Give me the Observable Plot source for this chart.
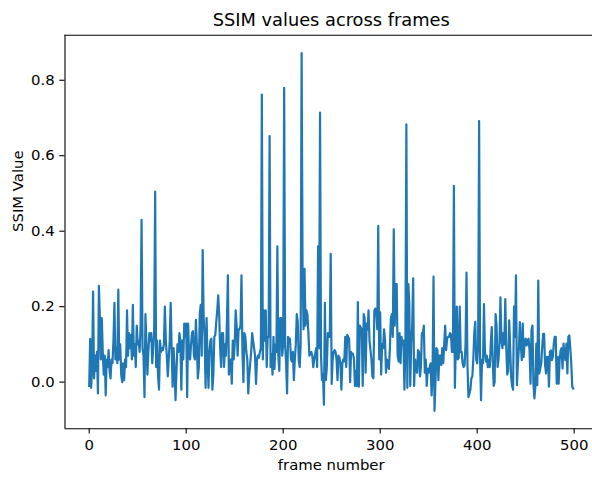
<!DOCTYPE html>
<html><head><meta charset="utf-8">
<script src="https://cdn.jsdelivr.net/npm/d3@7"></script>
<script src="https://cdn.jsdelivr.net/npm/@observablehq/plot@0.6"></script>
<style>
html,body{margin:0;padding:0;background:#fff;overflow:hidden}
</style></head><body><div id="chart"></div>
<script>
const title = "SSIM values across frames";
const xLabel = "frame number";
const yLabel = "SSIM Value";
const xTicks = [0, 100, 200, 300, 400, 500];
const yTicks = [0, 0.2, 0.4, 0.6, 0.8];
const ssim = [
  -0.01, 0.115, -0.015, 0.04, 0.24, 0.01, 0.07, 0.03, 0.08, -0.03,
  0.255, 0.17, 0.06, 0.17, 0.08, 0.02, 0.07, -0.035, 0.06, 0.04,
  0.085, 0.03, 0.01, 0.06, 0.05, 0.11, 0.21, 0.06, 0.09, 0.05,
  0.245, 0.06, 0.1, 0.02, 0.0, 0.05, 0.005, 0.06, 0.04, 0.19,
  0.07, 0.13, 0.09, 0.125, 0.06, 0.205, 0.07, 0.1, 0.04, 0.15,
  0.1, 0.11, 0.08, 0.15, 0.43, 0.09, 0.07, -0.04, 0.18, 0.1,
  0.02, 0.08, 0.13, 0.11, 0.13, 0.05, 0.09, 0.135, 0.505, 0.04,
  0.11, 0.015, -0.02, 0.11, 0.08, 0.09, 0.085, 0.1, 0.2, 0.11,
  0.07, 0.015, 0.06, 0.11, 0.21, 0.09, -0.012, 0.09, 0.035, -0.048,
  0.03, 0.1, 0.08, 0.13, 0.11, -0.02, 0.11, 0.06, 0.155, 0.12,
  0.155, -0.04, 0.155, 0.07, 0.06, 0.1, 0.13, 0.135, 0.07, 0.06,
  0.165, 0.1, 0.01, 0.04, 0.18, 0.205, 0.07, 0.35, 0.17, 0.12,
  -0.015, 0.17, 0.06, -0.015, 0.08, 0.11, 0.115, -0.02, 0.02, 0.12,
  0.125, 0.16, 0.19, 0.23, 0.18, 0.09, 0.04, 0.13, 0.13, 0.04,
  0.1, 0.07, 0.16, 0.283, 0.02, 0.055, 0.06, -0.004, 0.11, 0.06,
  0.1, 0.19, 0.15, 0.07, 0.14, 0.14, 0.15, 0.283, 0.08, 0.0,
  0.13, 0.12, 0.08, 0.06, -0.03, 0.02, 0.05, 0.08, 0.13, 0.11,
  0.09, 0.07, -0.005, 0.06, 0.07, 0.065, 0.08, 0.09, 0.762, 0.06,
  0.19, 0.11, 0.19, 0.04, 0.12, 0.12, 0.652, 0.04, 0.075, 0.02,
  0.12, 0.035, 0.1, 0.08, 0.36, 0.07, 0.03, 0.17, 0.17, 0.07,
  0.1, 0.78, 0.1, 0.05, -0.03, 0.12, 0.11, 0.115, 0.06, 0.055,
  0.08, 0.005, 0.06, 0.1, 0.18, 0.16, 0.06, 0.04, 0.1, 0.872,
  0.29, 0.14, 0.3, 0.15, 0.19, 0.18, 0.13, 0.07, 0.075, 0.08,
  0.07, 0.04, 0.06, 0.075, 0.09, 0.04, 0.36, 0.09, 0.714, 0.07,
  0.005, 0.02, -0.06, 0.21, 0.005, 0.04, 0.13, 0.12, 0.12, 0.34,
  -0.005, 0.06, 0.08, 0.085, 0.08, 0.06, 0.005, 0.07, 0.065, 0.05,
  -0.02, 0.05, 0.06, 0.055, 0.12, 0.04, 0.125, 0.12, 0.115, 0.0,
  0.08, 0.075, 0.075, 0.06, -0.01, 0.03, -0.01, 0.212, -0.012, 0.15,
  0.145, 0.14, -0.01, 0.18, 0.17, 0.025, 0.155, 0.14, 0.19, 0.11,
  0.085, 0.06, 0.015, 0.01, 0.19, 0.195, 0.19, 0.14, 0.414, 0.06,
  0.185, 0.02, 0.1, 0.09, 0.14, 0.11, 0.025, 0.06, 0.05, 0.035,
  0.09, 0.17, 0.18, 0.12, 0.405, 0.15, 0.26, 0.26, 0.07, 0.055,
  0.13, 0.05, 0.12, 0.1, 0.11, -0.02, 0.09, 0.683, -0.015, 0.26,
  0.21, -0.01, 0.1, 0.15, 0.275, -0.01, 0.06, 0.04, 0.025, 0.085,
  0.08, 0.015, 0.04, 0.13, 0.13, 0.15, 0.025, 0.06, -0.01, 0.035,
  0.025, 0.04, 0.05, -0.035, 0.02, 0.28, -0.076, 0.0, 0.09, 0.085,
  0.005, 0.07, 0.07, 0.045, 0.09, 0.05, 0.1, 0.15, 0.085, 0.115,
  0.12, 0.12, 0.13, 0.125, 0.08, 0.08, 0.52, -0.015, 0.1, 0.2,
  0.06, 0.065, 0.2, 0.08, 0.08, 0.05, 0.04, 0.045, 0.1, 0.29,
  0.045, -0.04, -0.03, -0.02, 0.01, 0.015, 0.06, 0.13, 0.16, 0.06,
  0.05, 0.1, 0.692, 0.06, -0.048, 0.06, 0.05, 0.207, 0.08, 0.055,
  0.07, 0.04, 0.06, 0.04, 0.1, 0.146, 0.06, -0.01, 0.0, 0.18,
  0.15, 0.04, 0.06, 0.105, 0.225, 0.11, 0.09, 0.13, 0.1, 0.22,
  0.09, 0.02, 0.03, 0.164, 0.09, 0.015, -0.01, -0.02, 0.2, 0.12,
  0.283, -0.008, 0.05, 0.09, 0.159, 0.1, 0.058, 0.155, 0.067, 0.111,
  0.115, 0.097, 0.11, 0.115, 0.084, -0.004, 0.137, 0.15, -0.004, -0.043,
  -0.012, 0.102, -0.008, 0.269, 0.023, 0.036, 0.049, 0.09, 0.128, 0.128,
  0.045, 0.023, 0.067, 0.067, -0.012, 0.08, 0.084, 0.058, 0.067, 0.102,
  0.12, 0.12, -0.004, 0.067, -0.004, 0.058, 0.084, 0.09, 0.036, 0.102,
  0.07, 0.058, 0.102, 0.023, 0.12, 0.124, 0.09, 0.05, -0.012, -0.017
];
const frames = ssim.map((_, i) => i);
const data = frames.map((f, i) => ({frame: f, ssim: ssim[i]}));

const xMin = d3.min(frames), xMax = d3.max(frames);
const xPad = (xMax - xMin) * 0.05;
const yMin = d3.min(ssim), yMax = d3.max(ssim);
const yPad = (yMax - yMin) * 0.05;
const xDomain = [xMin - xPad, xMax + xPad];
const yDomain = [yMin - yPad, yMax + yPad];

const W = 592, H = 477;
const mL = 64.5, mT = 34.7, mB = 48.8, axRight = 596.9;
const fs = 14.86;

const chart = Plot.plot({
  width: W, height: H,
  marginTop: mT, marginBottom: mB, marginLeft: mL, marginRight: 0,
  style: {fontFamily: "'DejaVu Sans', sans-serif", fontSize: fs + "px", background: "#fff", overflow: "hidden", color: "#000"},
  x: {domain: xDomain, range: [mL, axRight]},
  y: {domain: yDomain},
  marks: [
    Plot.line(data, {x: "frame", y: "ssim", stroke: "#1f77b4", strokeWidth: 2.2, strokeLinejoin: "round", strokeLinecap: "square"}),
    Plot.ruleX([xDomain[0]], {y1: yDomain[0], y2: yDomain[1], stroke: "#000", strokeWidth: 1.1}),
    Plot.ruleY(yDomain, {x1: xDomain[0], x2: xDomain[1], stroke: "#000", strokeWidth: 1.1}),
    Plot.axisX({ticks: xTicks, tickSize: 5.2, tickPadding: 5.2, tickFormat: d => String(d), label: null, strokeWidth: 1.1, fontSize: fs}),
    Plot.axisY({ticks: yTicks, tickSize: 5.2, tickPadding: 5.2, tickFormat: d3.format(".1f"), label: null, strokeWidth: 1.1, fontSize: fs}),
    Plot.text([title], {text: d => d, frameAnchor: "top", dx: 2.45, dy: -21.5, fontSize: 17.8}),
    Plot.text([xLabel], {text: d => d, frameAnchor: "bottom", dx: 2.45, dy: 41.5, fontSize: fs}),
    Plot.text([yLabel], {text: d => d, frameAnchor: "left", rotate: -90, dx: -47, fontSize: fs})
  ]
});
document.getElementById("chart").appendChild(chart);
</script>
</body></html>
